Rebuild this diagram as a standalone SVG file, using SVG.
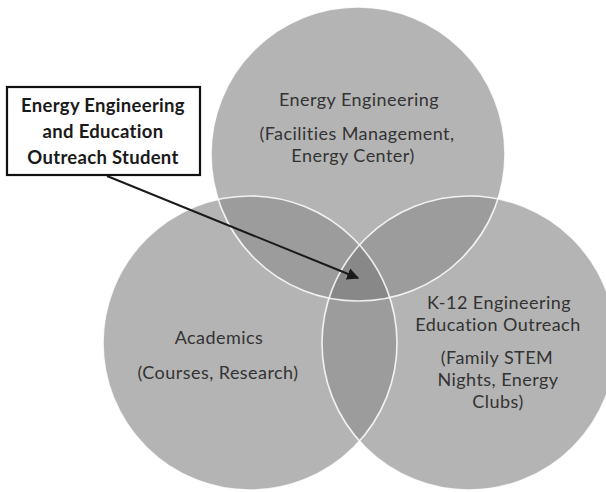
<svg xmlns="http://www.w3.org/2000/svg" width="606" height="492" viewBox="0 0 606 492">
  <style>
    .ring { fill: #b4b4b4; }
    .pair { fill: #9c9c9c; }
    .triple { fill: #888888; }
    .edge { fill: none; stroke: #ffffff; stroke-width: 1.6; stroke-opacity: 0.85; }
    .t { font-family: Lato, "Open Sans", "Liberation Sans", sans-serif; font-size: 18px; letter-spacing: 0.45px; fill: #333333; text-anchor: middle; }
    .lbl { font-family: Lato, "Open Sans", "Liberation Sans", sans-serif; font-size: 18.5px; letter-spacing: 0.3px; font-weight: bold; fill: #1a1a1a; text-anchor: middle; }
    .box { fill: #ffffff; stroke: #111111; stroke-width: 2.2; }
    .conn { stroke: #1a1a1a; stroke-width: 2; fill: none; }
  </style>
  <defs>
    <clipPath id="clipTop"><circle cx="358" cy="154" r="147"/></clipPath>
    <clipPath id="clipLeft"><circle cx="250" cy="343" r="147"/></clipPath>
    <marker id="arrowHead" viewBox="0 0 10 10" refX="9" refY="5" markerWidth="6" markerHeight="6" orient="auto" markerUnits="strokeWidth">
      <path d="M0,0 L10,5 L0,10 z" fill="#1a1a1a"/>
    </marker>
  </defs>

  <rect width="606" height="492" fill="#ffffff"/>

  <!-- Circles -->
  <g id="energy-engineering">
    <circle class="ring" cx="358" cy="154" r="147"/>
    <text class="t" x="359" y="106">Energy Engineering</text>
    <text class="t" x="357" y="140">(Facilities Management,</text>
    <text class="t" x="353" y="162">Energy Center)</text>
  </g>
  <g id="academics">
    <circle class="ring" cx="250" cy="343" r="147"/>
    <text class="t" x="219" y="344">Academics</text>
    <text class="t" x="218" y="379">(Courses, Research)</text>
  </g>
  <g id="k12-outreach">
    <circle class="ring" cx="469" cy="343" r="147"/>
    <text class="t" x="499" y="309">K-12 Engineering</text>
    <text class="t" x="498" y="331">Education Outreach</text>
    <text class="t" x="497" y="364">(Family STEM</text>
    <text class="t" x="498" y="386">Nights, Energy</text>
    <text class="t" x="498" y="408">Clubs)</text>
  </g>

  <!-- Overlap shading -->
  <g id="overlaps">
    <g clip-path="url(#clipTop)">
      <circle class="pair" cx="250" cy="343" r="147"/>
      <circle class="pair" cx="469" cy="343" r="147"/>
    </g>
    <g clip-path="url(#clipLeft)">
      <circle class="pair" cx="469" cy="343" r="147"/>
    </g>
    <g clip-path="url(#clipTop)">
      <g clip-path="url(#clipLeft)">
        <circle class="triple" cx="469" cy="343" r="147"/>
      </g>
    </g>
  </g>

  <!-- Circle outlines -->
  <g id="outlines">
    <circle class="edge" cx="358" cy="154" r="147" stroke-opacity="0.4"/>
    <circle class="edge" cx="469" cy="343" r="147"/>
    <circle class="edge" cx="250" cy="343" r="147"/>
  </g>

  <!-- Callout label -->
  <g id="student-label">
    <rect class="box" x="7" y="87" width="193" height="88"/>
    <text class="lbl" x="103" y="112">Energy Engineering</text>
    <text class="lbl" x="103" y="138">and Education</text>
    <text class="lbl" x="103" y="164">Outreach Student</text>
  </g>

  <!-- Connectors -->
  <g id="connectors">
    <line class="conn" x1="107" y1="176" x2="358" y2="278" marker-end="url(#arrowHead)"/>
  </g>
</svg>
